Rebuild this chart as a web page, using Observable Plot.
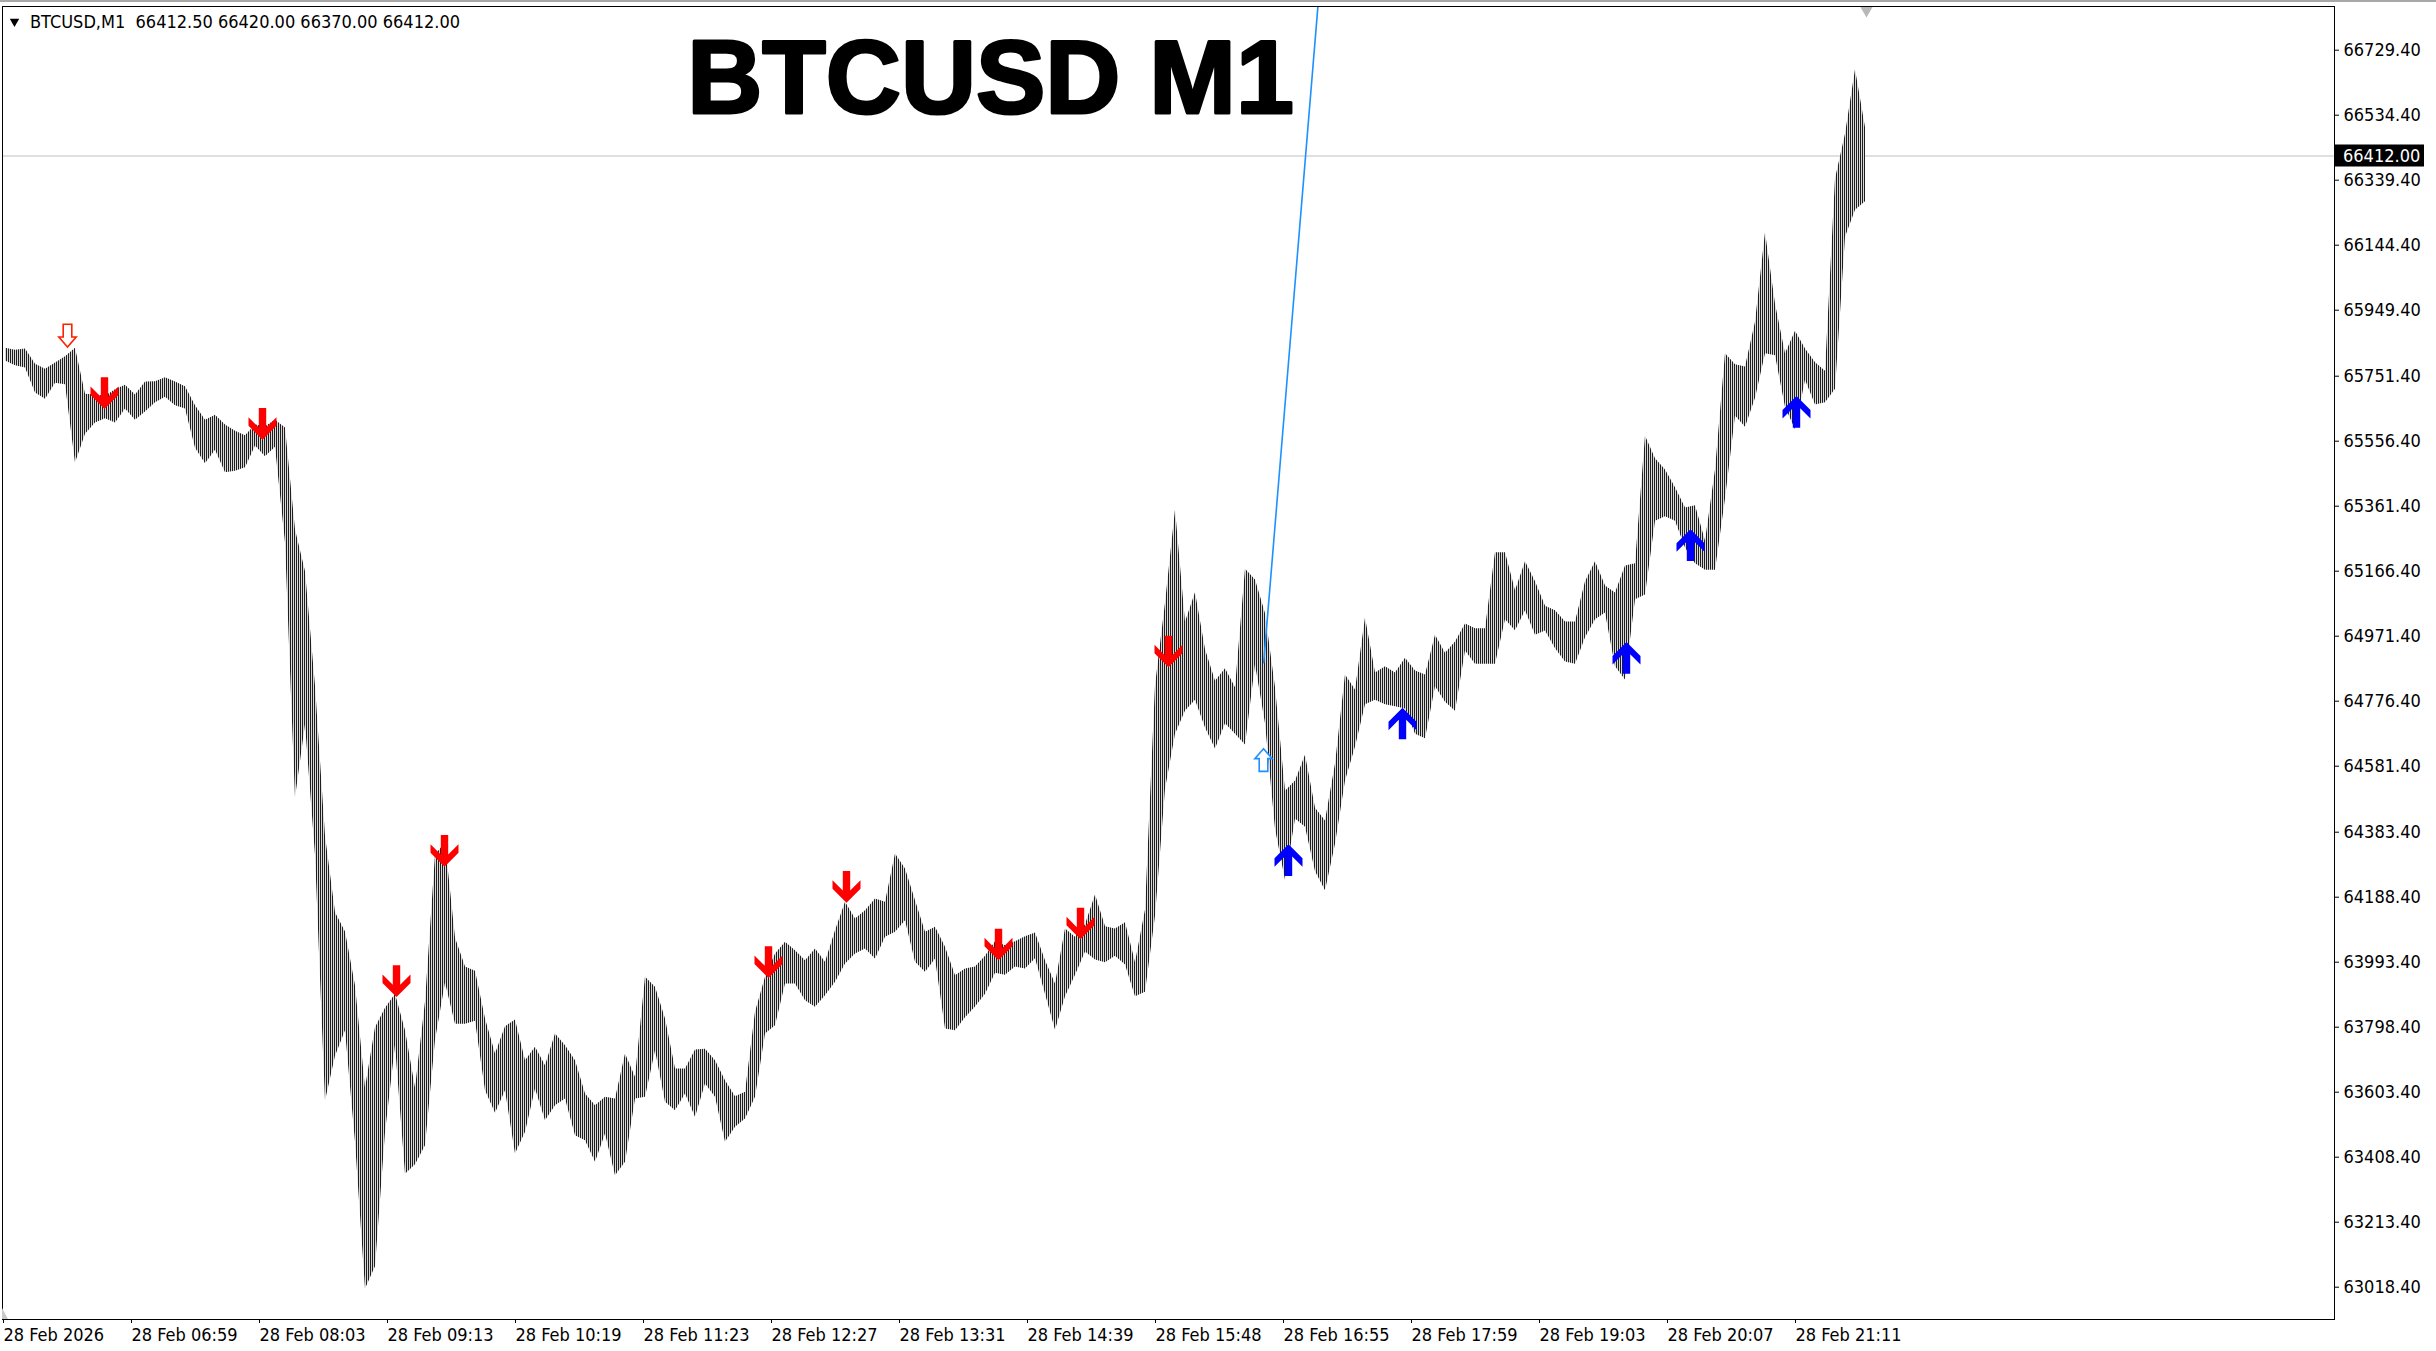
<!DOCTYPE html>
<html><head><meta charset="utf-8">
<script src="https://cdn.jsdelivr.net/npm/d3@7"></script>
<script src="https://cdn.jsdelivr.net/npm/@observablehq/plot@0.6"></script>
<style>
html,body{margin:0;padding:0;background:#fff;overflow:hidden;}
#chart svg{display:block;}
</style></head><body><div id="chart"></div>
<script>
// ---------- data ----------
const symbolName = "BTCUSD";
const timeframe = "M1";
const ohlcLast = [66412.50, 66420.00, 66370.00, 66412.00];
const lastPrice = 66412.00;
const barsPerSegment = 5;   // each entry below = high/low of 5 one-minute bars

const segHigh = [65835,65829,65833,65787,65772,65791,65810,65835,65697,65695,65691,65711,65724,65695,65734,65735,65747,65734,65720,65663,
65619,65634,65605,65586,65573,65605,65600,65619,65596,65290,65165,64821,64371,64142,64084,63922,63615,63797,63855,63897,
63788,63615,63874,64314,64352,64065,63979,63966,63823,63718,63800,63820,63698,63738,63683,63778,63743,63698,63598,63563,
63588,63583,63718,63648,63948,63918,63823,63673,63673,63730,63732,63698,63638,63590,63603,63843,63948,64018,64053,64028,
63998,64033,63993,64088,64173,64123,64148,64183,64173,64318,64273,64178,64083,64098,64038,63953,63973,63979,64011,64055,
64043,64055,64070,64081,63998,63928,64093,64068,64106,64195,64100,64093,64112,63992,64150,64823,65070,65350,65013,65102,
64931,64836,64874,64817,65172,65140,65039,64817,64506,64537,64614,64455,64417,64588,64855,64810,65026,64861,64880,64861,
64905,64867,64855,64974,64920,64954,65008,64994,64994,65222,65222,65108,65195,65135,65061,65048,65014,65014,65135,65195,
65122,65101,65182,65189,65571,65504,65470,65417,65356,65363,65256,65470,65819,65786,65779,65913,66182,65967,65819,65886,
65833,65792,65766,66343,66477,66671,66497];
const segLow = [65797,65783,65776,65701,65682,65730,65726,65491,65577,65611,65624,65611,65653,65619,65644,65672,65688,65663,65653,65535,
65489,65529,65462,65466,65477,65542,65510,65538,65251,64486,64706,64314,63577,63711,63788,63453,63013,63080,63482,63744,
63357,63386,63443,63759,63931,63807,63807,63816,63608,63540,63608,63418,63483,63613,63518,63563,63583,63473,63458,63393,
63478,63353,63393,63583,63588,63728,63573,63548,63598,63528,63628,63588,63453,63498,63523,63588,63778,63803,63928,63928,
63878,63858,63893,63933,63988,64018,64033,64003,64068,64083,64118,63993,63963,64003,63793,63788,63827,63859,63897,63960,
63954,63979,63973,64004,63897,63789,63890,63954,64024,64000,63992,64011,63985,63890,63903,64131,64512,64677,64747,64779,
64696,64633,64709,64677,64645,64886,64709,64392,64239,64423,64398,64265,64208,64347,64537,64639,64766,64779,64766,64760,
64753,64677,64664,64820,64773,64746,64927,64887,64887,64887,65021,64988,65048,64974,64987,64934,64894,64887,64967,65021,
65041,64880,64840,65081,65095,65316,65330,65316,65236,65189,65169,65169,65383,65632,65598,65685,65819,65813,65658,65591,
65739,65665,65672,65712,66168,66249,66275];

const timeTickBars = [0,64,128,192,256,320,384,448,512,576,640,704,768,832,896];
const timeTickLabels = ["28 Feb 2026","28 Feb 06:59","28 Feb 08:03","28 Feb 09:13","28 Feb 10:19","28 Feb 11:23","28 Feb 12:27",
  "28 Feb 13:31","28 Feb 14:39","28 Feb 15:48","28 Feb 16:55","28 Feb 17:59","28 Feb 19:03","28 Feb 20:07","28 Feb 21:11"];
const priceTicks = [66729.40,66534.40,66339.40,66144.40,65949.40,65751.40,65556.40,65361.40,65166.40,64971.40,
  64776.40,64581.40,64383.40,64188.40,63993.40,63798.40,63603.40,63408.40,63213.40,63018.40];

const sellBars   = [51, 130, 197, 221, 383, 422, 498, 539, 583];
const sellPrices = [65653, 65561, 63889, 64280, 63946, 64172, 63999, 64062, 64878];
const buyBars    = [643, 700, 812, 844, 897];
const buyPrices  = [64347, 64757, 64954, 65292, 65692];
const sellHollowBar = [32.5],  sellHollowPrice = [65839];
const buyHollowBar  = [630.5], buyHollowPrice  = [64634];
const trendBars   = [630.6, 657.7];
const trendPrices = [64892, 66860];

// ---------- tables ----------
const segments = segHigh.map((h, i) => ({i, hi: h, lo: segLow[i]}));
const sells = sellBars.map((b, i) => ({bar: b, price: sellPrices[i]}));
const buys = buyBars.map((b, i) => ({bar: b, price: buyPrices[i]}));
const sellH = sellHollowBar.map((b, i) => ({bar: b, price: sellHollowPrice[i]}));
const buyH = buyHollowBar.map((b, i) => ({bar: b, price: buyHollowPrice[i]}));
const trend = trendBars.map((b, i) => ({bar: b, price: trendPrices[i]}));
const lastBar = segHigh.length * barsPerSegment - 3;

// ---------- arrow symbols (tip at the anchor point) ----------
function polySymbol(pts) {
  return {draw(ctx, size) {
    const s = Math.sqrt(size / Math.PI);
    ctx.moveTo(pts[0][0] * s, pts[0][1] * s);
    for (let k = 1; k < pts.length; k++) ctx.lineTo(pts[k][0] * s, pts[k][1] * s);
    ctx.closePath();
  }};
}
const downPts = [[0,0],[-14,-14],[-14,-22.5],[-3.7,-12.2],[-3.7,-31.7],[3.7,-31.7],[3.7,-12.2],[14,-22.5],[14,-14]];
const hollowDownPts = [[0,0],[-8.7,-10],[-4.3,-10],[-4.3,-22.7],[4.3,-22.7],[4.3,-10],[8.7,-10]];
const downFilled = polySymbol(downPts);
const upFilled = polySymbol(downPts.map(([x, y]) => [x, -y]));
const downHollow = polySymbol(hollowDownPts);
const upHollow = polySymbol(hollowDownPts.map(([x, y]) => [x, -y]));

const smallFont = "'DejaVu Sans Condensed', 'Liberation Sans', Arial, sans-serif";
const NS = "http://www.w3.org/2000/svg";

function mk(g, tag, attrs, txt) {
  const el = document.createElementNS(NS, tag);
  for (const k in attrs) el.setAttribute(k, attrs[k]);
  if (txt != null) el.textContent = txt;
  g.appendChild(el);
  return el;
}

// vertical 1px bar texture like the terminal's minute bars
function barTexture() {
  const defs = document.createElementNS(NS, "defs");
  const p = mk(defs, "pattern", {id: "minuteBars", width: 2, height: 8, patternUnits: "userSpaceOnUse"});
  mk(p, "rect", {x: 0, y: 0, width: 1, height: 8, fill: "#1e1e1e"});
  mk(p, "rect", {x: 1, y: 0, width: 1, height: 8, fill: "#d8d8d8"});
  return defs;
}

function extras(index, scales, values, dims) {
  const g = document.createElementNS(NS, "g");
  const right = dims.width - dims.marginRight;
  const y = scales.y(lastPrice);
  mk(g, "line", {x1: 0, x2: dims.width, y1: 1, y2: 1, stroke: "#a8a8a8", "stroke-width": 2});
  mk(g, "rect", {x: right + 1, y: y - 11, width: 89, height: 22, fill: "black"});
  mk(g, "text", {x: right + 9, y: y, "dominant-baseline": "central", "text-anchor": "start", fill: "white",
    "font-size": 18, "font-family": smallFont}, lastPrice.toFixed(2));
  const bottom = dims.height - dims.marginBottom;
  mk(g, "path", {d: `M${dims.marginLeft},${bottom - 11}L${dims.marginLeft + 6},${bottom}L${dims.marginLeft},${bottom}Z`, fill: "#c8c8c8"});
  return g;
}

const header = `${symbolName},${timeframe}\u00a0\u00a0${ohlcLast.map(v => v.toFixed(2)).join(" ")}`;

const chart = Plot.plot({
  width: 2436,
  height: 1351,
  marginTop: 6,
  marginRight: 102,
  marginBottom: 32,
  marginLeft: 2,
  style: {fontFamily: smallFont, fontSize: "18px", color: "black", background: "white"},
  x: {domain: [0, 1166], label: null},
  y: {domain: [62921.5, 66860.5], label: null},
  marks: [
    barTexture,
    Plot.ruleY([lastPrice], {stroke: "#c0c0c0", strokeWidth: 1}),
    Plot.areaY(segments, {
      x: d => d.i * barsPerSegment + (barsPerSegment - 2) / 2,
      y1: "lo", y2: "hi",
      curve: "linear",
      fill: "url(#minuteBars)", clip: true
    }),
    Plot.line(trend, {x: "bar", y: "price", stroke: "#1E90FF", strokeWidth: 1.6, clip: true}),
    Plot.dot(sells, {x: "bar", y: "price", symbol: downFilled, r: 1, fill: "#FF0000", stroke: "none"}),
    Plot.dot(buys, {x: "bar", y: "price", symbol: upFilled, r: 1, fill: "#0000FF", stroke: "none"}),
    Plot.dot(sellH, {x: "bar", y: "price", symbol: downHollow, r: 1, fill: "white", stroke: "#FF2000", strokeWidth: 1.6}),
    Plot.dot(buyH, {x: "bar", y: "price", symbol: upHollow, r: 1, fill: "white", stroke: "#1E90FF", strokeWidth: 1.6}),
    Plot.dot([lastBar], {x: d => d, frameAnchor: "top", dy: 4, symbol: "triangle", rotate: 180, r: 4.5, fill: "#b8b8b8", stroke: "none"}),
    Plot.frame({stroke: "black", strokeWidth: 1}),
    Plot.axisY(priceTicks, {anchor: "right", tickSize: 4, tickPadding: 5, tickFormat: d => d.toFixed(2), fontSize: 18, label: null}),
    Plot.axisX(timeTickBars, {anchor: "bottom", tickSize: 4, tickPadding: 5, textAnchor: "start", dx: 1,
      tickFormat: d => timeTickLabels[timeTickBars.indexOf(d)], fontSize: 18, label: null}),
    Plot.text([header], {text: d => d, frameAnchor: "top-left", dx: 27.5, dy: 16, textAnchor: "start", lineAnchor: "middle", fontSize: 18, fill: "black"}),
    Plot.dot([0], {frameAnchor: "top-left", dx: 12, dy: 15, symbol: "triangle", rotate: 180, r: 3.5, fill: "black", stroke: "none"}),
    Plot.text([`${symbolName} ${timeframe}`], {text: d => d, frameAnchor: "top-left", dx: 988, dy: 106,
      textAnchor: "middle", lineAnchor: "bottom", fontSize: 104, fontWeight: "bold",
      fontFamily: "'Liberation Sans', Arial, sans-serif", fill: "black", stroke: "black", strokeWidth: 3}),
    extras
  ]
});
document.getElementById("chart").appendChild(chart);
</script>
</body></html>
